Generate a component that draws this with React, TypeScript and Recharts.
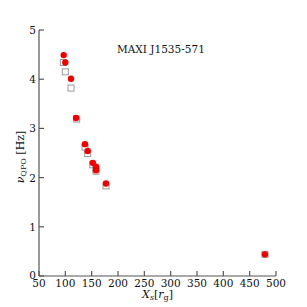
import React from 'react'
import { ScatterChart, Scatter, XAxis, YAxis, Label } from 'recharts'

// red filled circles
const redX = [96.9, 100, 110.8, 120.3, 137.3, 142.4, 152, 158.2, 158.2, 177.2, 479]
const redY = [4.49, 4.34, 4.01, 3.21, 2.68, 2.54, 2.3, 2.22, 2.15, 1.88, 0.44]

// grey open squares
const greyX = [96.2, 100, 110.8, 121.5, 137.3, 142.4, 152, 158.2, 158.2, 177.2, 479]
const greyY = [4.34, 4.15, 3.82, 3.19, 2.62, 2.49, 2.26, 2.17, 2.13, 1.83, 0.44]

const xTicks = [50, 100, 150, 200, 250, 300, 350, 400, 450, 500]
const yTicks = [0, 1, 2, 3, 4, 5]

const redData = redX.map((x, i) => ({ x, y: redY[i] }))
const greyData = greyX.map((x, i) => ({ x, y: greyY[i] }))

const FONT = '"DejaVu Serif", serif'
const AXIS = '#555'
const TICK = 5

const BottomTick = (p: any) => (
    <g>
        <line x1={p.x} x2={p.x} y1={p.y} y2={p.y - TICK} stroke={AXIS} strokeWidth={1.2} />
        <text x={p.x} y={p.y + 11} textAnchor="middle" fontFamily={FONT} fontSize={10.5} fill="#111">
            {p.payload.value}
        </text>
    </g>
)
const TopTick = (p: any) => (
    <line x1={p.x} x2={p.x} y1={p.y} y2={p.y + TICK} stroke={AXIS} strokeWidth={1.2} />
)
const LeftTick = (p: any) => (
    <g>
        <line x1={p.x} x2={p.x + TICK} y1={p.y} y2={p.y} stroke={AXIS} strokeWidth={1.2} />
        <text
            x={p.x - 3}
            y={p.y + (p.payload.value === 0 ? 2.5 : 4)}
            textAnchor="end"
            fontFamily={FONT}
            fontSize={10.5}
            fill="#111"
        >
            {p.payload.value}
        </text>
    </g>
)
const RightTick = (p: any) => (
    <line x1={p.x} x2={p.x - TICK} y1={p.y} y2={p.y} stroke={AXIS} strokeWidth={1.2} />
)

const RedDot = (p: any) => <circle cx={p.cx} cy={p.cy} r={3.2} fill="#ee0000" />
const GreySquare = (p: any) => (
    <rect x={p.cx - 3} y={p.cy - 3} width={6} height={6} fill="#fff" stroke="#999" strokeWidth={1} />
)

const XLabel = (props: any) => {
    const vb = props.viewBox
    const cx = vb.x + vb.width / 2
    return (
        <text x={cx} y={vb.y + 22} textAnchor="middle" fontFamily={FONT} fontSize={11} fill="#111">
            <tspan fontStyle="italic">X</tspan>
            <tspan fontStyle="italic" fontSize={8} dy={2}>s</tspan>
            <tspan dy={-2}>[</tspan>
            <tspan fontStyle="italic">r</tspan>
            <tspan fontSize={8} dy={2}>g</tspan>
            <tspan dy={-2}>]</tspan>
        </text>
    )
}

const YLabel = (props: any) => {
    const vb = props.viewBox
    const cy = vb.y + vb.height / 2 + 4
    const cx = 24
    return (
        <text x={cx} y={cy} transform={`rotate(-90 ${cx} ${cy})`} textAnchor="middle" fontFamily={FONT} fontSize={11} fill="#111">
            <tspan fontStyle="italic">ν</tspan>
            <tspan fontSize={8} dy={2}>QPO</tspan>
            <tspan dy={-2}> [Hz]</tspan>
        </text>
    )
}

export default function App() {
    return (
        <div style={{ position: 'absolute', left: 0, top: 0, width: 307, height: 307, background: '#fff' }}>
            <ScatterChart width={307} height={307} margin={{ top: 30, right: 31, bottom: 0, left: 0 }}>
                <XAxis
                    xAxisId="b"
                    type="number"
                    dataKey="x"
                    domain={[50, 500]}
                    ticks={xTicks}
                    height={31}
                    tickSize={0}
                    tickMargin={0}
                    tickLine={false}
                    tick={<BottomTick />}
                    axisLine={{ stroke: AXIS, strokeWidth: 1.2 }}
                    interval={0}
                >
                    <Label content={<XLabel />} />
                </XAxis>
                <XAxis
                    xAxisId="t"
                    orientation="top"
                    type="number"
                    dataKey="x"
                    domain={[50, 500]}
                    ticks={xTicks}
                    height={0}
                    tickSize={0}
                    tickMargin={0}
                    tickLine={false}
                    tick={<TopTick />}
                    axisLine={{ stroke: AXIS, strokeWidth: 1.2 }}
                    interval={0}
                />
                <YAxis
                    yAxisId="l"
                    type="number"
                    dataKey="y"
                    domain={[0, 5]}
                    ticks={yTicks}
                    width={39}
                    tickSize={0}
                    tickMargin={0}
                    tickLine={false}
                    tick={<LeftTick />}
                    axisLine={{ stroke: AXIS, strokeWidth: 1.2 }}
                    interval={0}
                >
                    <Label content={<YLabel />} />
                </YAxis>
                <YAxis
                    yAxisId="r"
                    orientation="right"
                    type="number"
                    dataKey="y"
                    domain={[0, 5]}
                    ticks={yTicks}
                    width={0}
                    tickSize={0}
                    tickMargin={0}
                    tickLine={false}
                    tick={<RightTick />}
                    axisLine={{ stroke: AXIS, strokeWidth: 1.2 }}
                    interval={0}
                />
                <Scatter xAxisId="b" yAxisId="l" data={greyData} shape={<GreySquare />} isAnimationActive={false} />
                <Scatter xAxisId="b" yAxisId="l" data={redData} shape={<RedDot />} isAnimationActive={false} />
            </ScatterChart>
            <div
                style={{
                    position: 'absolute',
                    left: 117,
                    top: 42,
                    fontFamily: FONT,
                    fontSize: 10.5,
                    color: '#111',
                    whiteSpace: 'nowrap',
                    lineHeight: '14px',
                }}
            >
                MAXI J1535-571
            </div>
        </div>
    )
}
